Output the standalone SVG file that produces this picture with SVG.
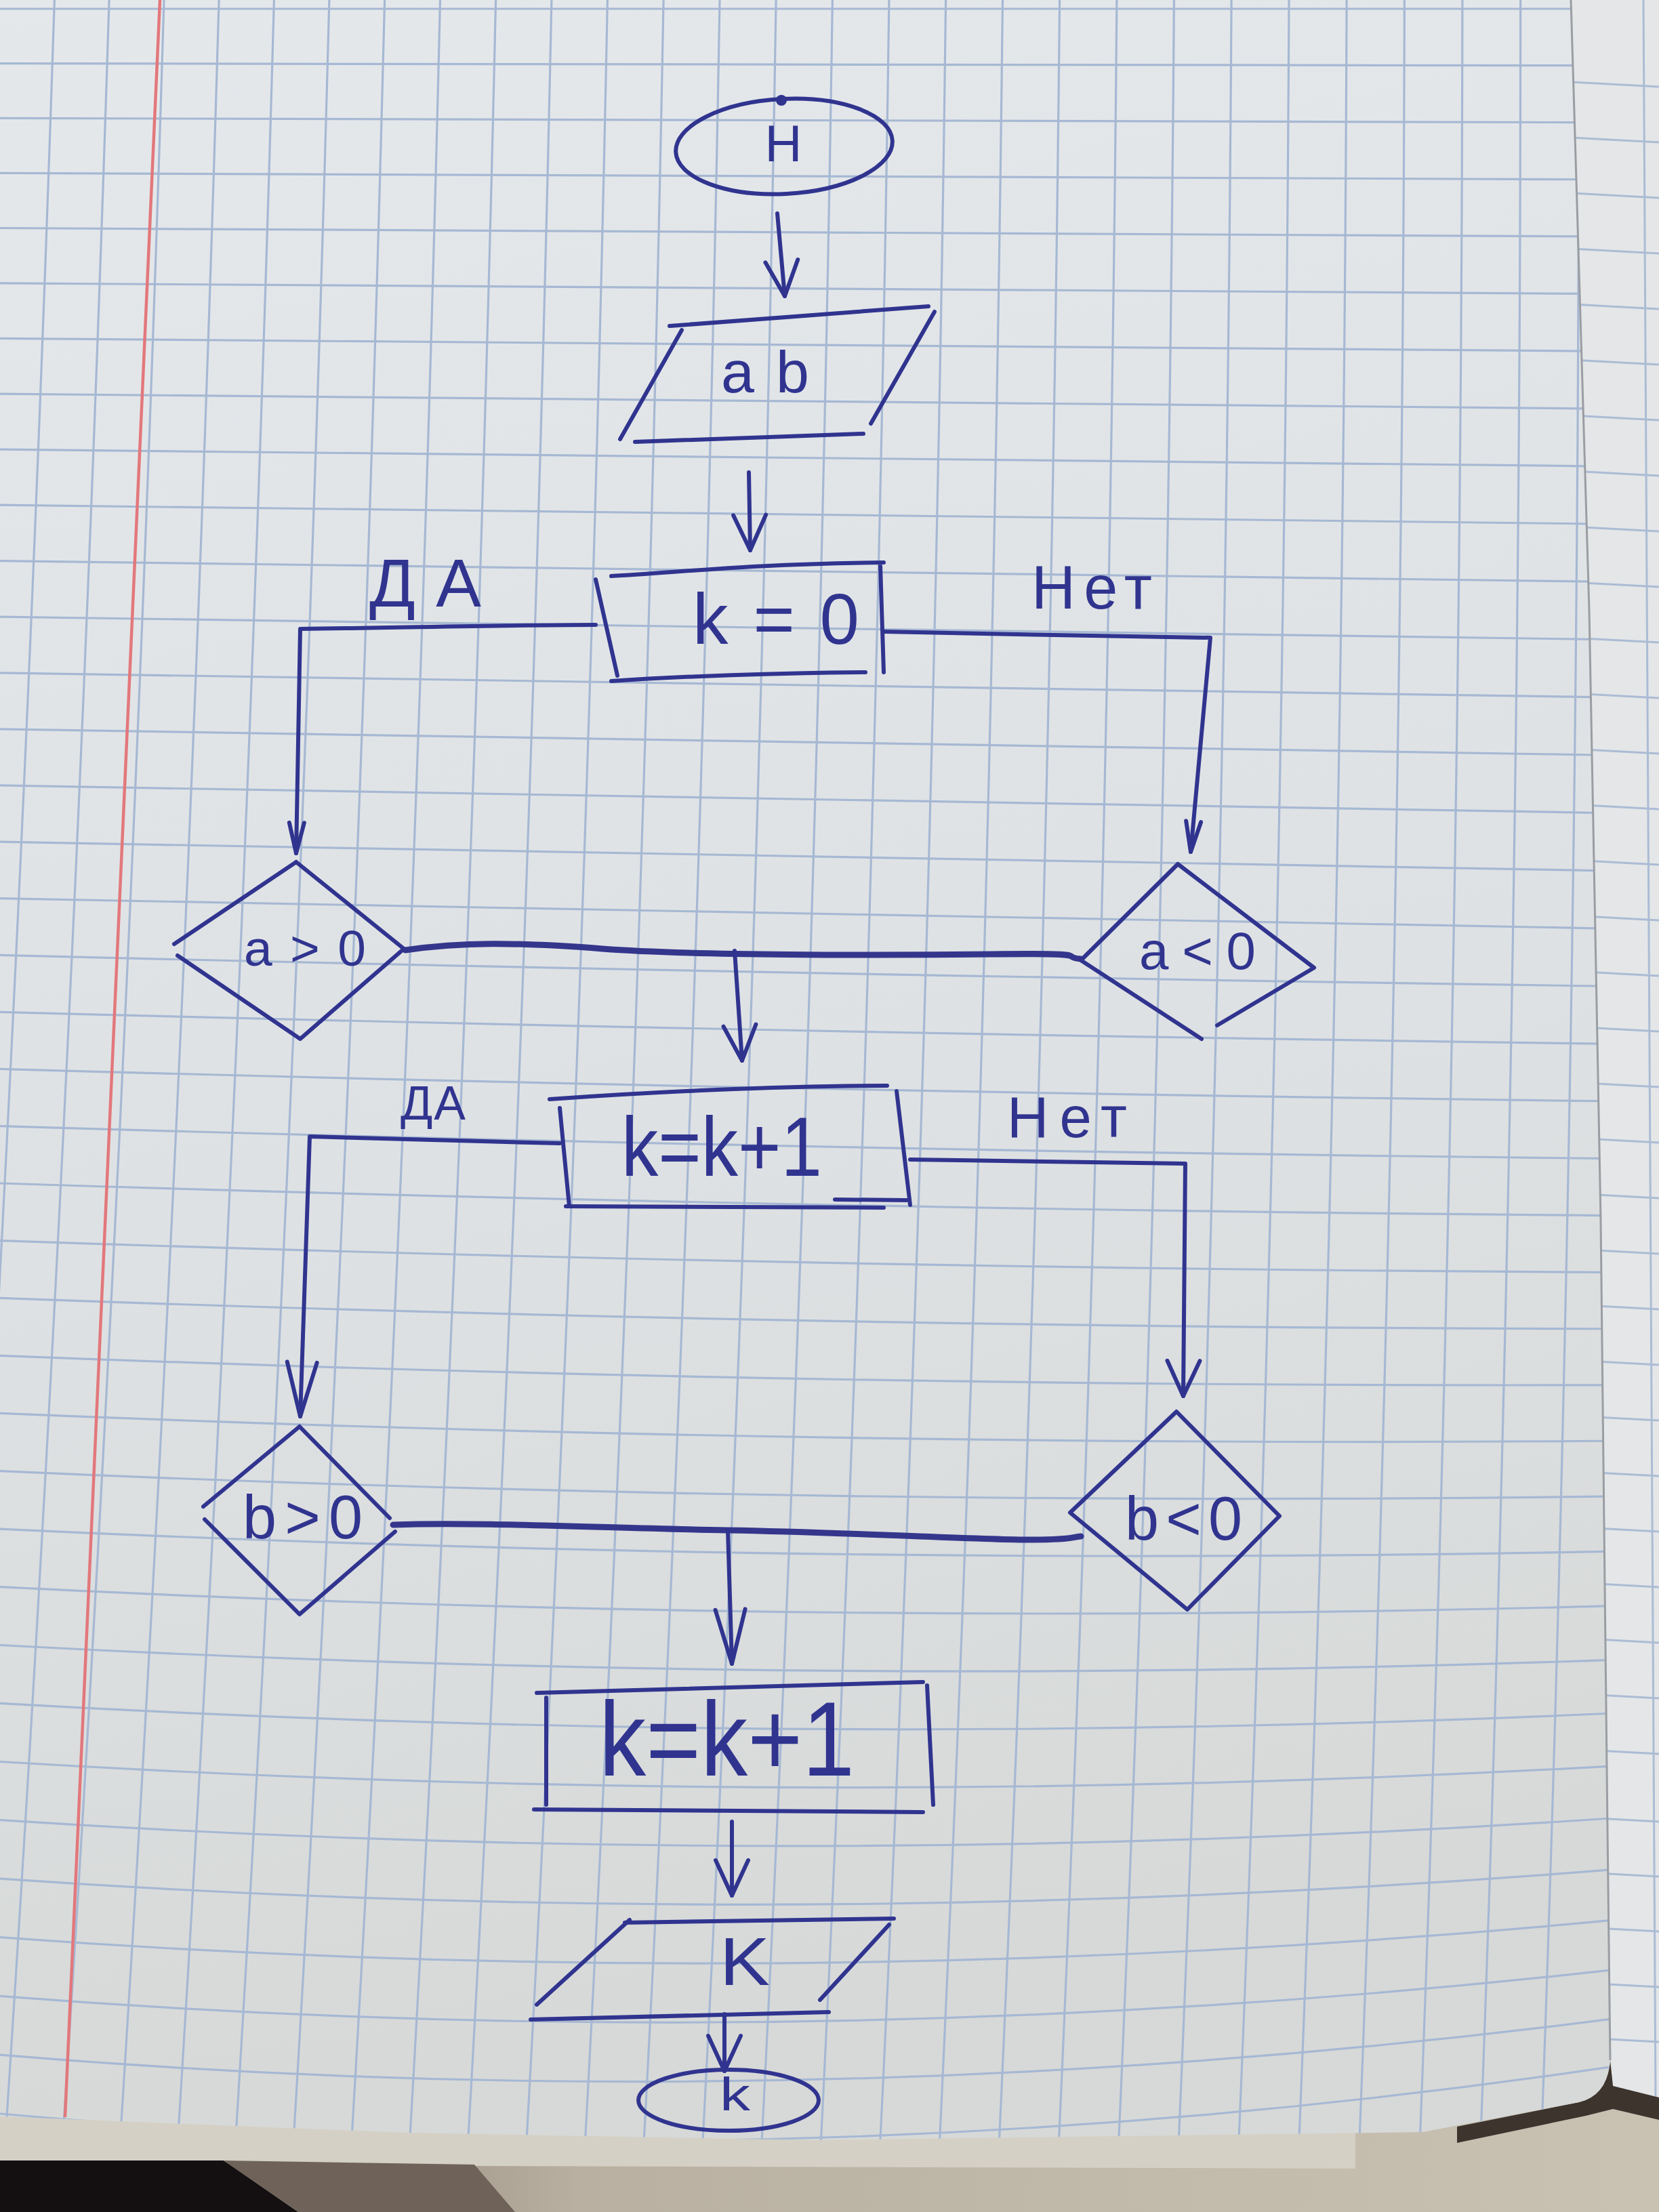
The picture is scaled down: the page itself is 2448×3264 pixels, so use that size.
<svg xmlns="http://www.w3.org/2000/svg" width="2448" height="3264" viewBox="0 0 2448 3264">
<defs>
<style>
.ink{fill:none;stroke:#30348f;stroke-width:6;stroke-linecap:round;stroke-linejoin:round}
.thick{stroke-width:9;stroke:#34368c}
.lbl{font-family:"Liberation Sans","DejaVu Sans",sans-serif;fill:#30348f}
.grid{fill:none;stroke:#a6b8d3;stroke-width:3.2}
.grid2{fill:none;stroke:#abbcd4;stroke-width:3}
</style>
<linearGradient id="paper" x1="0" y1="0" x2="0.15" y2="1">
<stop offset="0" stop-color="#e5e8eb"/>
<stop offset="0.6" stop-color="#dee1e3"/>
<stop offset="1" stop-color="#d7d9d8"/>
</linearGradient>
<linearGradient id="desk" x1="0" y1="0" x2="1" y2="0">
<stop offset="0" stop-color="#6e6258"/>
<stop offset="0.35" stop-color="#b9b0a1"/>
<stop offset="1" stop-color="#c9c2b3"/>
</linearGradient>
<clipPath id="pageClip">
<path d="M0,0 L2318,0 L2345,900 L2362,1800 L2372,2700 L2376,3040 Q2372,3092 2330,3102 L2100,3146 L1200,3158 L600,3147 L0,3123 Z"/>
</clipPath>
<clipPath id="rightClip">
<path d="M2318,0 L2448,0 L2448,3095 L2380,3078 L2376,3040 L2372,2700 L2362,1800 L2345,900 Z"/>
</clipPath>
<marker id="arr" markerUnits="userSpaceOnUse" viewBox="-90 -35 100 70" refX="0" refY="0" markerWidth="100" markerHeight="70" orient="auto">
<path d="M-52,-24 L0,0 L-52,24" fill="none" stroke="#30348f" stroke-width="6" stroke-linecap="round" stroke-linejoin="round"/>
</marker>
<marker id="arrN" markerUnits="userSpaceOnUse" viewBox="-90 -35 100 70" refX="0" refY="0" markerWidth="100" markerHeight="70" orient="auto">
<path d="M-45,-11 L0,0 L-45,11" fill="none" stroke="#30348f" stroke-width="6" stroke-linecap="round" stroke-linejoin="round"/>
</marker>
<marker id="arrL" markerUnits="userSpaceOnUse" viewBox="-90 -35 100 70" refX="0" refY="0" markerWidth="100" markerHeight="70" orient="auto">
<path d="M-80,-22 L0,0 L-80,22" fill="none" stroke="#30348f" stroke-width="6" stroke-linecap="round" stroke-linejoin="round"/>
</marker>
</defs>

<g id="background">
<rect x="0" y="0" width="2448" height="3264" fill="url(#desk)"/>
<path d="M0,3100 L2000,3130 L2000,3200 L700,3196 L0,3190 Z" fill="#d4d0c5"/>
<path d="M0,3188 L330,3188 L440,3264 L0,3264 Z" fill="#141012"/>
<path d="M330,3188 L700,3194 L760,3264 L440,3264 Z" fill="#6f6359"/>
<path d="M2318,0 L2448,0 L2448,3095 L2380,3078 L2376,3040 L2372,2700 L2362,1800 L2345,900 Z" fill="#e4e6e8"/>
<g clip-path="url(#rightClip)" class="grid2">
<path d="M2300,120 L2448,128"/><path d="M2300,202 L2448,210"/><path d="M2300,284 L2448,292"/><path d="M2300,366 L2448,374"/><path d="M2300,448 L2448,456"/><path d="M2300,530 L2448,538"/><path d="M2300,612 L2448,620"/><path d="M2300,694 L2448,702"/><path d="M2300,776 L2448,784"/><path d="M2300,858 L2448,866"/><path d="M2300,940 L2448,948"/><path d="M2300,1022 L2448,1030"/><path d="M2300,1104 L2448,1112"/><path d="M2300,1186 L2448,1194"/><path d="M2300,1268 L2448,1276"/><path d="M2300,1350 L2448,1358"/><path d="M2300,1432 L2448,1440"/><path d="M2300,1514 L2448,1522"/><path d="M2300,1596 L2448,1604"/><path d="M2300,1678 L2448,1686"/><path d="M2300,1760 L2448,1768"/><path d="M2300,1842 L2448,1850"/><path d="M2300,1924 L2448,1932"/><path d="M2300,2006 L2448,2014"/><path d="M2300,2088 L2448,2096"/><path d="M2300,2170 L2448,2178"/><path d="M2300,2252 L2448,2260"/><path d="M2300,2334 L2448,2342"/><path d="M2300,2416 L2448,2424"/><path d="M2300,2498 L2448,2506"/><path d="M2300,2580 L2448,2588"/><path d="M2300,2680 L2448,2688"/><path d="M2300,2761 L2448,2769"/><path d="M2300,2842 L2448,2850"/><path d="M2300,2924 L2448,2932"/><path d="M2300,3005 L2448,3013"/>
<path d="M2425,0 L2443,3100"/>
</g>
<path d="M2150,3138 L2330,3102 Q2372,3092 2376,3040 L2380,3078 L2448,3095 L2448,3128 L2380,3112 L2340,3122 L2150,3162 Z" fill="#3d342e"/>
<path d="M0,0 L2318,0 L2345,900 L2362,1800 L2372,2700 L2376,3040 Q2372,3092 2330,3102 L2100,3146 L1200,3158 L600,3147 L0,3123 Z" fill="url(#paper)"/>
<g clip-path="url(#pageClip)">
<g class="grid">
<path d="M80.4,0 Q27.3,1632 -83.9,3264"/>
<path d="M161.1,0 Q110,1632 0.7,3264"/>
<path d="M242,0 Q193,1632 85.5,3264"/>
<path d="M323.1,0 Q276.2,1632 170.5,3264"/>
<path d="M404.4,0 Q359.5,1632 255.7,3264"/>
<path d="M485.9,0 Q443,1632 341.1,3264"/>
<path d="M567.6,0 Q526.8,1632 426.7,3264"/>
<path d="M649.5,0 Q610.8,1632 512.5,3264"/>
<path d="M731.6,0 Q694.9,1632 598.5,3264"/>
<path d="M813.9,0 Q779.3,1632 684.7,3264"/>
<path d="M896.4,0 Q863.8,1632 771.1,3264"/>
<path d="M979.1,0 Q948.6,1632 857.7,3264"/>
<path d="M1062,0 Q1033.5,1632 944.5,3264"/>
<path d="M1145.1,0 Q1118.7,1632 1031.5,3264"/>
<path d="M1228.4,0 Q1204,1632 1118.7,3264"/>
<path d="M1311.9,0 Q1289.6,1632 1206.1,3264"/>
<path d="M1395.6,0 Q1375.3,1632 1293.7,3264"/>
<path d="M1479.5,0 Q1461.3,1632 1381.5,3264"/>
<path d="M1563.6,0 Q1547.4,1632 1469.5,3264"/>
<path d="M1647.9,0 Q1633.8,1632 1557.7,3264"/>
<path d="M1732.4,0 Q1720.3,1632 1646.1,3264"/>
<path d="M1817.1,0 Q1807.1,1632 1734.7,3264"/>
<path d="M1902,0 Q1894,1632 1823.5,3264"/>
<path d="M1987.1,0 Q1981.2,1632 1912.5,3264"/>
<path d="M2072.4,0 Q2068.5,1632 2001.7,3264"/>
<path d="M2157.9,0 Q2156.1,1632 2091.1,3264"/>
<path d="M2243.6,0 Q2243.8,1632 2180.7,3264"/>
<path d="M2329.5,0 Q2331.8,1632 2270.5,3264"/>
<path d="M0,13 Q1200,13 2400,13"/>
<path d="M0,93.6 Q1200,95.2 2400,96.8"/>
<path d="M0,174.3 Q1200,177.6 2400,180.8"/>
<path d="M0,255.3 Q1200,260.1 2400,265"/>
<path d="M0,336.5 Q1200,342.9 2400,349.3"/>
<path d="M0,417.8 Q1200,425.9 2400,433.9"/>
<path d="M0,499.4 Q1200,509.1 2400,518.6"/>
<path d="M0,581.1 Q1200,592.5 2400,603.4"/>
<path d="M0,663.1 Q1200,676.1 2400,688.4"/>
<path d="M0,745.2 Q1200,759.9 2400,773.6"/>
<path d="M0,827.6 Q1200,844 2400,858.8"/>
<path d="M0,910.1 Q1200,928.2 2400,944.1"/>
<path d="M0,992.9 Q1200,1012.7 2400,1029.4"/>
<path d="M0,1075.8 Q1200,1097.5 2400,1114.8"/>
<path d="M0,1158.9 Q1200,1182.5 2400,1200.1"/>
<path d="M0,1242.2 Q1200,1267.7 2400,1285.4"/>
<path d="M0,1325.7 Q1200,1353.2 2400,1370.6"/>
<path d="M0,1409.4 Q1200,1438.9 2400,1455.6"/>
<path d="M0,1493.3 Q1200,1525 2400,1540.6"/>
<path d="M0,1577.3 Q1200,1611.3 2400,1625.2"/>
<path d="M0,1661.6 Q1200,1697.9 2400,1709.7"/>
<path d="M0,1746 Q1200,1784.8 2400,1793.8"/>
<path d="M0,1830.6 Q1200,1872 2400,1877.5"/>
<path d="M0,1915.4 Q1200,1959.6 2400,1960.8"/>
<path d="M0,2000.3 Q1200,2047.5 2400,2043.7"/>
<path d="M0,2085.4 Q1200,2135.7 2400,2126"/>
<path d="M0,2170.7 Q1200,2224.3 2400,2207.7"/>
<path d="M0,2256.1 Q1200,2313.2 2400,2288.8"/>
<path d="M0,2341.7 Q1200,2402.6 2400,2369.1"/>
<path d="M0,2427.5 Q1200,2492.3 2400,2448.6"/>
<path d="M0,2513.4 Q1200,2582.5 2400,2527.2"/>
<path d="M0,2599.5 Q1200,2673.1 2400,2604.9"/>
<path d="M0,2685.7 Q1200,2764.1 2400,2681.5"/>
<path d="M0,2772.1 Q1200,2855.6 2400,2757"/>
<path d="M0,2858.6 Q1200,2947.6 2400,2831.4"/>
<path d="M0,2945.3 Q1200,3040.1 2400,2904.5"/>
<path d="M0,3032.1 Q1200,3133.1 2400,2976.2"/>
<path d="M0,3119 Q1200,3226.6 2400,3046.5"/>
</g>
<path d="M236,0 L96,3124" fill="none" stroke="#e2787c" stroke-width="4.5"/>
</g>
<path d="M2318,0 L2345,900 L2362,1800 L2372,2700 L2376,3040" fill="none" stroke="#9a9ea3" stroke-width="3"/>
</g>

<g id="connectors">
<path class="ink" d="M1147,315 L1158,437" marker-end="url(#arr)"/>
<path class="ink" d="M1105,697 L1107,812" marker-end="url(#arr)"/>
<path class="ink" d="M879,922 C760,922 600,926 443,928 L437,1259" marker-end="url(#arrN)"/>
<path class="ink" d="M1304,932 C1450,936 1650,938 1786,941 L1757,1257" marker-end="url(#arrN)"/>
<path class="ink thick" d="M598,1402 C680,1390 760,1390 889,1400 S1300,1410 1463,1408 S1560,1412 1595,1415"/>
<path class="ink" d="M1084,1403 L1095,1565" marker-end="url(#arr)"/>
<path class="ink" d="M826,1687 C700,1684 560,1680 457,1677 L443,2090" marker-end="url(#arrL)"/>
<path class="ink" d="M1343,1711 C1480,1713 1620,1715 1749,1717 L1746,2060" marker-end="url(#arr)"/>
<path class="ink thick" d="M580,2250 C700,2245 900,2255 1074,2258 S1450,2272 1519,2272 S1580,2268 1595,2267"/>
<path class="ink" d="M1074,2258 L1080,2455" marker-end="url(#arrL)"/>
<path class="ink" d="M1080,2688 L1080,2797" marker-end="url(#arr)"/>
<path class="ink" d="M1069,2972 L1069,3056" marker-end="url(#arr)"/>
</g>

<g id="node-start">
<ellipse class="ink" cx="1157" cy="216" rx="160" ry="70" transform="rotate(-3 1157 216)"/>
<circle cx="1153" cy="148" r="8" fill="#30348f"/>
<text class="lbl" x="1156" y="238" font-size="76" text-anchor="middle">Н</text>
</g>

<g id="node-input-ab">
<path class="ink" d="M988,481 L1370,452 M1379,460 L1285,625 M937,652 L1274,640 M1006,487 L915,648"/>
<text class="lbl" x="1064" y="579" font-size="88" textLength="130" lengthAdjust="spacing">ab</text>
</g>

<g id="node-k0">
<path class="ink" d="M902,850 C1000,845 1100,832 1304,830 M879,855 L911,997 M1299,835 L1304,992 M902,1005 C1000,998 1150,993 1277,992"/>
<text class="lbl" x="1022" y="950" font-size="105" textLength="246" lengthAdjust="spacing">k=0</text>
</g>

<g id="label-da-1">
<text class="lbl" x="545" y="895" font-size="100" textLength="165" lengthAdjust="spacing">ДА</text>
</g>
<g id="label-net-1">
<text class="lbl" x="1522" y="898" font-size="90" textLength="178" lengthAdjust="spacing">Нет</text>
</g>

<g id="node-a-gt">
<path class="ink" d="M437,1272 L596,1400 L443,1533 L262,1410 M257,1393 L437,1272"/>
<text class="lbl" x="360" y="1425" font-size="75" textLength="180" lengthAdjust="spacing">a&gt;0</text>
</g>

<g id="node-a-lt">
<path class="ink" d="M1738,1275 L1939,1428 L1796,1513 M1738,1275 L1595,1417 L1773,1533"/>
<text class="lbl" x="1681" y="1430" font-size="78" textLength="172" lengthAdjust="spacing">a&lt;0</text>
</g>

<g id="node-kk1-a">
<path class="ink" d="M811,1622 C950,1612 1150,1602 1309,1602 M826,1635 L840,1780 M1323,1610 L1343,1778 M835,1780 L1304,1782 M1232,1770 L1338,1771"/>
<text class="lbl" x="917" y="1735" font-size="125" textLength="296" lengthAdjust="spacingAndGlyphs">k=k+1</text>
</g>

<g id="label-da-2">
<text class="lbl" x="591" y="1652" font-size="70" textLength="96" lengthAdjust="spacing">ДА</text>
</g>
<g id="label-net-2">
<text class="lbl" x="1486" y="1678" font-size="85" textLength="177" lengthAdjust="spacing">Нет</text>
</g>

<g id="node-b-gt">
<path class="ink" d="M442,2105 L575,2240 M583,2260 L442,2382 L302,2242 M300,2223 L442,2105"/>
<text class="lbl" x="358" y="2270" font-size="90" textLength="177" lengthAdjust="spacing">b&gt;0</text>
</g>

<g id="node-b-lt">
<path class="ink" d="M1736,2083 L1888,2237 L1752,2375 L1579,2232 Z"/>
<text class="lbl" x="1660" y="2272" font-size="90" textLength="173" lengthAdjust="spacing">b&lt;0</text>
</g>

<g id="node-kk1-b">
<path class="ink" d="M792,2498 L1362,2482 M1368,2487 L1377,2663 M806,2505 L806,2663 M788,2670 L1362,2674"/>
<text class="lbl" x="884" y="2620" font-size="155" textLength="377" lengthAdjust="spacingAndGlyphs">k=k+1</text>
</g>

<g id="node-output-k">
<path class="ink" d="M922,2837 L1319,2831 M929,2833 L792,2958 M1312,2840 L1210,2951 M783,2980 L1223,2969"/>
<text class="lbl" x="1062" y="2929" font-size="100" textLength="74" lengthAdjust="spacingAndGlyphs">K</text>
</g>

<g id="node-end">
<ellipse class="ink" cx="1075" cy="3099" rx="133" ry="45"/>
<text class="lbl" x="1062" y="3114" font-size="68" textLength="45" lengthAdjust="spacingAndGlyphs">k</text>
</g>
</svg>
